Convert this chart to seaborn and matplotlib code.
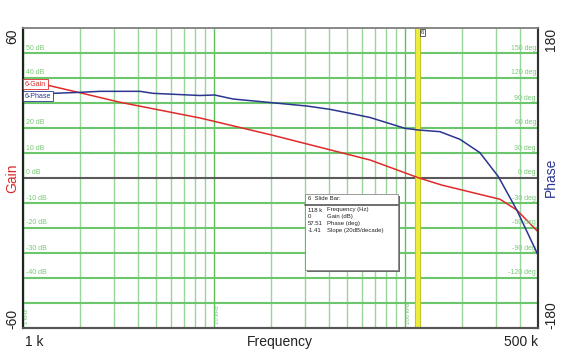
import numpy as np
import pandas as pd
import matplotlib
matplotlib.use("Agg")
import matplotlib.pyplot as plt
import matplotlib.patheffects as pe
from matplotlib.patches import Rectangle
import seaborn as sns

# ---------------- data ----------------
freq_gain = [1000, 1330, 1990, 3220, 8470, 20100, 65900, 118000, 156000, 316000, 387000, 500000]
gain_db = [39.2, 37.2, 34.1, 30.3, 24.0, 17.2, 7.2, 0.1, -2.8, -8.5, -12.8, -21.5]

freq_phase = [1000, 1436, 1990, 2535, 4103, 4800, 8470, 10100, 12600, 20100, 30700, 40600,
              51700, 65900, 100400, 118000, 153000, 195000, 248000, 310000, 387000, 500000]
phase_deg = [102.0, 101.6, 102.8, 104.0, 104.0, 101.6, 99.0, 99.6, 94.8, 90.4, 86.4, 82.4,
             77.6, 72.6, 59.6, 57.6, 55.6, 46.4, 30.4, 1.6, -38.4, -92.4]

gain_grid = [-50, -40, -30, -20, -10, 10, 20, 30, 40, 50]
gain_labels = ["", "-40 dB", "-30 dB", "-20 dB", "-10 dB", "10 dB", "20 dB", "30 dB", "40 dB", "50 dB"]
phase_grid = [-150, -120, -90, -60, -30, 0, 30, 60, 90, 120, 150]
phase_labels = ["", "-120 deg", "-90 deg", "-60 deg", "-30 deg", "0 deg", "30 deg", "60 deg",
                "90 deg", "120 deg", "150 deg"]
minor_freqs = [2e3, 3e3, 4e3, 5e3, 6e3, 7e3, 8e3, 9e3,
               2e4, 3e4, 4e4, 5e4, 6e4, 7e4, 8e4, 9e4,
               2e5, 3e5, 4e5]
major_freqs = [1e3, 1e4, 1e5]
major_labels = ["1 kHz", "10 kHz", "100 kHz"]

slider_freq = 118000
info_values = ["118 k", "0", "57.51", "-1.41"]
info_names = ["Frequency (Hz)", "Gain (dB)", "Phase (deg)", "Slope (20dB/decade)"]

df_gain = pd.DataFrame({"freq": freq_gain, "gain": gain_db})
df_phase = pd.DataFrame({"freq": freq_phase, "phase": phase_deg})

# ---------------- style ----------------
sns.set_style("white")
plt.rcParams['font.family'] = ['Liberation Sans', 'DejaVu Sans']

W, H = 561, 357
fig = plt.figure(figsize=(W / 100, H / 100), dpi=100)
ax = fig.add_axes([23 / W, 1 - 328 / H, 515 / W, 300 / H])
ax2 = ax.twinx()

ax.set_xscale('log')
ax.set_xlim(1000, 500000)
ax.set_ylim(-60, 60)
ax2.set_ylim(-180, 180)

GREEN_H = '#6cc66c'
GREEN_MINOR = '#9ad69a'
GREEN_MAJOR = '#5cbf5c'
LABEL_GREEN = '#78c878'

# grid
for f in minor_freqs:
    ax.axvline(f, color=GREEN_MINOR, lw=1.0, zorder=0)
for f, lab in zip(major_freqs, major_labels):
    ax.axvline(f, color=GREEN_MAJOR, lw=1.0, zorder=0)
    ax.text(f * 1.012, -58.5, lab, rotation=90, va='bottom', ha='left',
            fontsize=4.3, color=LABEL_GREEN, zorder=1)
for y in gain_grid:
    ax.axhline(y, color=GREEN_H, lw=1.5, zorder=0.5)
ax.axhline(0, color='#5a5a5a', lw=1.5, zorder=0.6)

ytr = ax.get_yaxis_transform()
for y, lab in zip(gain_grid, gain_labels):
    if lab:
        ax.text(0.006, y + 0.6, lab, transform=ytr, va='bottom', ha='left',
                fontsize=5, color=LABEL_GREEN, zorder=1)
ax.text(0.006, 0.6, "0 dB", transform=ytr, va='bottom', ha='left',
        fontsize=5, color=LABEL_GREEN, zorder=1)
ytr2 = ax2.get_yaxis_transform()
for y, lab in zip(phase_grid, phase_labels):
    if lab:
        ax2.text(0.996, y + 1.8, lab, transform=ytr2, va='bottom', ha='right',
                 fontsize=5, color=LABEL_GREEN, zorder=1)

# slider bar
ax.axvline(slider_freq, color='#ecec3c', lw=3.2, zorder=2,
           path_effects=[pe.Stroke(linewidth=4.4, foreground='#b8b828'), pe.Normal()])
ax.text(slider_freq * 1.03, 59.2, "6", va='top', ha='left', fontsize=4.3, color='#333333', zorder=6,
        bbox=dict(boxstyle='square,pad=0.15', fc='white', ec='#444444', lw=0.6))

# curves
sns.lineplot(data=df_gain, x="freq", y="gain", ax=ax, color='#e02a2a', lw=1.1, zorder=5,
             estimator=None, sort=False)
sns.lineplot(data=df_phase, x="freq", y="phase", ax=ax2, color='#2b3590', lw=1.1, zorder=5,
             estimator=None, sort=False)

# legend tags
ax2.text(0.003, 0.813, "6-Gain", transform=ax.transAxes, va='center', ha='left', fontsize=5,
         color='#e02a2a', zorder=7,
         bbox=dict(boxstyle='square,pad=0.25', fc='white', ec='#e02a2a', lw=0.6))
ax2.text(0.003, 0.773, "6-Phase", transform=ax.transAxes, va='center', ha='left', fontsize=5,
         color='#2b3590', zorder=7,
         bbox=dict(boxstyle='square,pad=0.25', fc='white', ec='#2b3590', lw=0.6))

# info box
bx0, bx1 = (305 - 23) / 515, (398 - 23) / 515
by0, by1 = (328 - 270) / 300, (328 - 194) / 300
ax2.add_patch(Rectangle((bx0 + 0.004, by0 - 0.007), bx1 - bx0, by1 - by0, transform=ax.transAxes,
                        fc='#6a6a6a', ec='none', zorder=8))
ax2.add_patch(Rectangle((bx0, by0), bx1 - bx0, by1 - by0, transform=ax.transAxes,
                        fc='white', ec='#8a8a8a', lw=0.6, zorder=9))
sep_y = (328 - 205) / 300
ax2.plot([bx0, bx1], [sep_y, sep_y], transform=ax.transAxes, color='#555555', lw=1.2, zorder=10)
ax2.text(bx0 + 0.006, (328 - 199) / 300, "6  Slide Bar:", transform=ax.transAxes,
         va='center', ha='left', fontsize=4.3, color='#222222', zorder=10)
row_y = [210, 216.7, 223.3, 230.5]
for ry, v, n in zip(row_y, info_values, info_names):
    yy = (328 - ry) / 300
    ax2.text(bx0 + 0.006, yy, v, transform=ax.transAxes, va='center', ha='left',
             fontsize=4.3, color='#222222', zorder=10)
    ax2.text(bx0 + 0.042, yy, n, transform=ax.transAxes, va='center', ha='left',
             fontsize=4.3, color='#222222', zorder=10)

# axes cosmetics
for a in (ax, ax2):
    a.set_xlabel("")
    a.set_ylabel("")
    a.set_xticks([])
    a.set_xticks([], minor=True)
    a.set_yticks([])
    a.set_yticks([], minor=True)
    a.tick_params(which='both', length=0)
    a.spines['left'].set_color('#222222')
    a.spines['left'].set_linewidth(1.5)
    a.spines['bottom'].set_color('#555555')
    a.spines['bottom'].set_linewidth(1.5)
    a.spines['top'].set_color('#888888')
    a.spines['top'].set_linewidth(1.2)
    a.spines['right'].set_color('#333333')
    a.spines['right'].set_linewidth(1.5)
    for s in a.spines.values():
        s.set_visible(True)

# outside labels
def ft(px, py, s, **kw):
    fig.text(px / W, 1 - py / H, s, **kw)

ft(12, 28, "60", rotation=90, va='top', ha='center', fontsize=10, color='#222222')
ft(12, 329, "-60", rotation=90, va='bottom', ha='center', fontsize=10, color='#222222')
ft(12, 178, "Gain", rotation=90, va='center', ha='center', fontsize=10, color='#d82a2a')
ft(551, 28, "180", rotation=90, va='top', ha='center', fontsize=10, color='#222222')
ft(551, 329, "-180", rotation=90, va='bottom', ha='center', fontsize=10, color='#222222')
ft(551, 177, "Phase", rotation=90, va='center', ha='center', fontsize=10, color='#2b3590')
ft(25, 342, "1 k", va='center', ha='left', fontsize=10, color='#222222')
ft(280, 342, "Frequency", va='center', ha='center', fontsize=10, color='#222222')
ft(538, 342, "500 k", va='center', ha='right', fontsize=10, color='#222222')

fig.savefig("out.png", dpi=100)
